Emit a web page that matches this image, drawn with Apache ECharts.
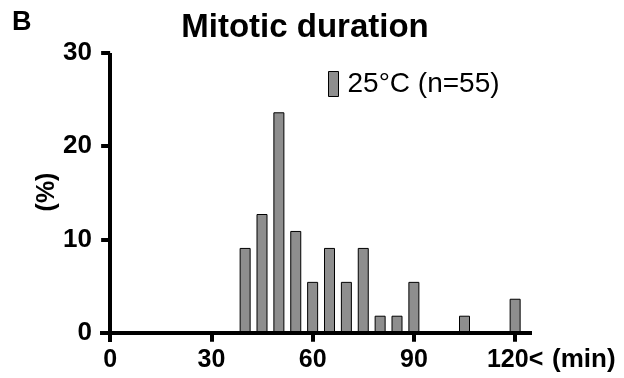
<!DOCTYPE html>
<html><head><meta charset="utf-8">
<script src="https://cdn.jsdelivr.net/npm/echarts@6/dist/echarts.min.js"></script>
<style>html,body{margin:0;padding:0;background:#fff}#c{width:624px;height:378px}</style>
</head><body><div id="c"></div>
<script>
const binMinutes = [40,45,50,55,60,65,70,75,80,85,90,95,100,105,110,115,120];
const percentValues = [9.09,12.73,23.64,10.91,5.45,9.09,5.45,9.09,1.82,1.82,5.45,0,0,1.82,0,0,3.64];
const xTickValues = [0,30,60,90,120];
const yTickValues = [0,10,20,30];
const seriesName = '25°C (n=55)';
const chartTitle = 'Mitotic duration';
const panelLabel = 'B';
const yAxisTitle = '(%)';
const xAxisTitle = '(min)';

const FONT = '"Liberation Sans", Arial, Helvetica, sans-serif';
const barData = binMinutes.map((m, i) => [m, percentValues[i]]).filter(d => d[1] > 0);

const chart = echarts.init(document.getElementById('c'), null, {renderer: 'canvas'});
chart.setOption({
  animation: false,
  backgroundColor: '#fff',
  grid: {left: 100, right: 92, top: 53, bottom: 36},
  xAxis: {
    type: 'value', min: -3, max: 125, z: 5,
    splitLine: {show: false},
    axisLine: {onZero: true, lineStyle: {color: '#000', width: 4, cap: 'butt'}},
    axisTick: {show: true, customValues: xTickValues, length: 9, lineStyle: {color: '#000', width: 4}},
    axisLabel: {customValues: xTickValues, margin: 6, color: '#000', fontSize: 25, fontWeight: 'bold', fontFamily: FONT,
      formatter: v => v === 120 ? '120<' : String(v)}
  },
  yAxis: {
    type: 'value', min: -1, max: 30, z: 5,
    splitLine: {show: false},
    axisLine: {onZero: true, lineStyle: {color: '#000', width: 4, cap: 'butt'}},
    axisTick: {show: true, customValues: yTickValues, length: 9, lineStyle: {color: '#000', width: 4}},
    axisLabel: {customValues: yTickValues, margin: 8, color: '#000', fontSize: 26, fontWeight: 'bold', fontFamily: FONT}
  },
  legend: {
    show: true, left: 323, top: 65, icon: 'rect', itemWidth: 10, itemHeight: 25,
    itemStyle: {color: '#8e8e8e', borderColor: '#000', borderWidth: 1},
    textStyle: {fontSize: 28, color: '#000', fontFamily: FONT, padding: [0, 0, 0, 4]},
    data: [seriesName]
  },
  series: [{
    name: seriesName, type: 'bar', data: barData, barWidth: 11,
    itemStyle: {color: '#8e8e8e', borderColor: '#000', borderWidth: 1}
  }],
  graphic: [
    {type: 'text', left: 12, top: 9, style: {text: panelLabel, font: 'bold 27px ' + FONT, fill: '#000'}},
    {type: 'text', x: 305, y: 28, style: {text: chartTitle, font: 'bold 33px ' + FONT, fill: '#000', textAlign: 'center', textVerticalAlign: 'middle'}},
    {type: 'text', x: 47, y: 192, rotation: Math.PI / 2, style: {text: yAxisTitle, font: 'bold 25px ' + FONT, fill: '#000', textAlign: 'center', textVerticalAlign: 'middle'}},
    {type: 'text', x: 552, y: 360, style: {text: xAxisTitle, font: 'bold 26px ' + FONT, fill: '#000', textAlign: 'left', textVerticalAlign: 'middle'}}
  ]
});
</script></body></html>
